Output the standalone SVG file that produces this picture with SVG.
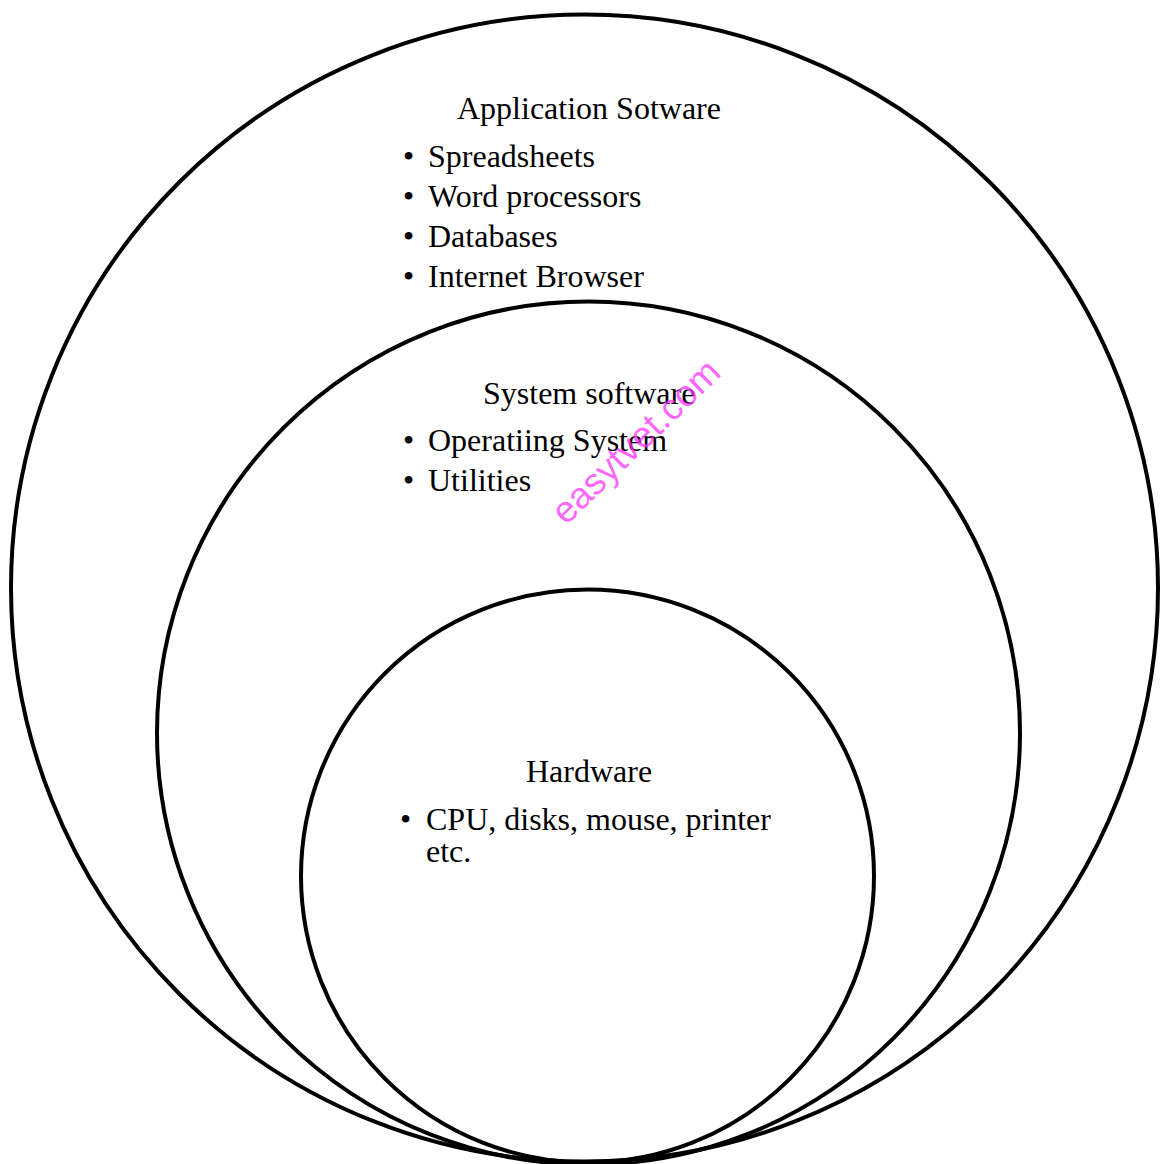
<svg xmlns="http://www.w3.org/2000/svg" width="1160" height="1164" viewBox="0 0 1160 1164">
<style>
.ring{fill:none;stroke:#000;stroke-width:4}
.t{font-family:"Liberation Serif","Times New Roman",serif;font-size:32px;fill:#000}
.wm{font-family:"Liberation Sans",Arial,sans-serif;font-size:37px;fill:#ff33ff;fill-opacity:0.75}
</style>
<rect width="1160" height="1164" fill="#fff"/>
<g id="application">
<circle class="ring" cx="584.5" cy="588" r="573.5"/>
<text class="t" x="457" y="119">Application Sotware</text>
<text class="t" x="403" y="167">• <tspan x="428">Spreadsheets</tspan></text>
<text class="t" x="403" y="207">• <tspan x="428">Word processors</tspan></text>
<text class="t" x="403" y="247">• <tspan x="428">Databases</tspan></text>
<text class="t" x="403" y="287">• <tspan x="428">Internet Browser</tspan></text>
</g>
<g id="system">
<circle class="ring" cx="588.5" cy="733" r="431.5"/>
<text class="t" x="483" y="404">System software</text>
<text class="t" x="403" y="451">• <tspan x="428">Operatiing System</tspan></text>
<text class="t" x="403" y="491">• <tspan x="428">Utilities</tspan></text>
</g>
<g id="hardware">
<circle class="ring" cx="587.5" cy="876" r="286.5"/>
<text class="t" x="526" y="782">Hardware</text>
<text class="t" x="400" y="830">• <tspan x="426">CPU, disks, mouse, printer</tspan></text>
<text class="t" x="426" y="862">etc.</text>
</g>
<g id="connectors"></g>
<text class="wm" transform="translate(566,526) rotate(-44)">easytvet.com</text>
</svg>
